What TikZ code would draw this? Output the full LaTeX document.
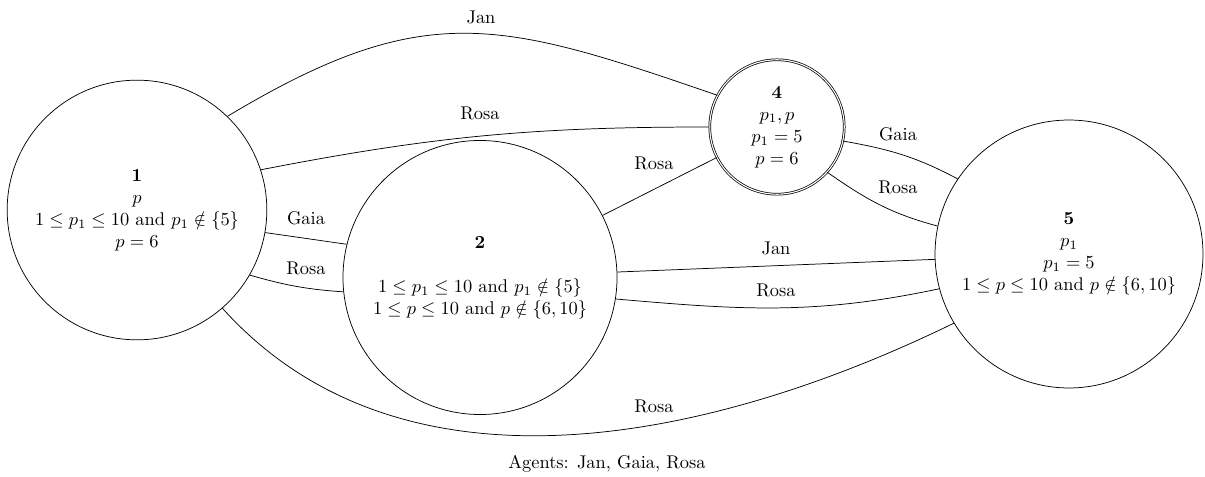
\documentclass[tikz,border=0pt]{standalone}
\usepackage{amsmath,amssymb}
\begin{document}
\begin{tikzpicture}[x=0.543pt,y=-0.543pt,
  world/.style={circle,draw,inner sep=0pt,align=center},
  lbl/.style={inner sep=0pt}]
\useasboundingbox (0,0) rectangle (1205,477);

% worlds
\node[world,minimum size=141pt] (n1) at (137,210)
  {\textbf{1}\\ $p$\\ $1\le p_1\le 10$ and $p_1\notin\{5\}$\\ $p=6$};
\node[world,minimum size=148.8pt] (n2) at (480,277.5)
  {\textbf{2}\\[12pt] $1\le p_1\le 10$ and $p_1\notin\{5\}$\\ $1\le p\le 10$ and $p\notin\{6,10\}$};
\node[world,double,minimum size=73pt] (n4) at (777,127)
  {\textbf{4}\\ $p_1,p$\\ $p_1=5$\\ $p=6$};
\node[world,minimum size=145.5pt] (n5) at (1069,254)
  {\textbf{5}\\ $p_1$\\ $p_1=5$\\ $1\le p\le 10$ and $p\notin\{6,10\}$};

% accessibility relations
\draw (n1.46) to[out=31,in=161,looseness=1.2] (n4.152);
\draw (n1.18) to[out=11,in=180] (n4.180);
\draw (n1.-10) -- (n2.166);
\draw (n1.-30) to[out=-16,in=176] (n2.186);
\draw (n1.-49) to[out=-48,in=206,looseness=0.94] (n5.211);
\draw (n2) -- (n4);
\draw (n2) -- (n5);
\draw (n2.-9) to[out=-5,in=192] (n5.195);
\draw (n4.-12) to[out=-10,in=152] (n5.146);
\draw (n4.-42) to[out=-35,in=165] (n5.168);

% edge labels
\node[lbl] (l14a) at (481,17) {Jan};
\node[lbl] (l14b) at (480,113) {Rosa};
\node[lbl] (l12a) at (306,218) {Gaia};
\node[lbl] (l12b) at (306,268) {Rosa};
\node[lbl] (l24)  at (654,163) {Rosa};
\node[lbl] (l45a) at (898,134) {Gaia};
\node[lbl] (l45b) at (898,187) {Rosa};
\node[lbl] (l25a) at (776,248) {Jan};
\node[lbl] (l25b) at (776,290) {Rosa};
\node[lbl] (l15)  at (654,406) {Rosa};

\node[lbl] (agents) at (607,464) {Agents: Jan, Gaia, Rosa};
\end{tikzpicture}
\end{document}
